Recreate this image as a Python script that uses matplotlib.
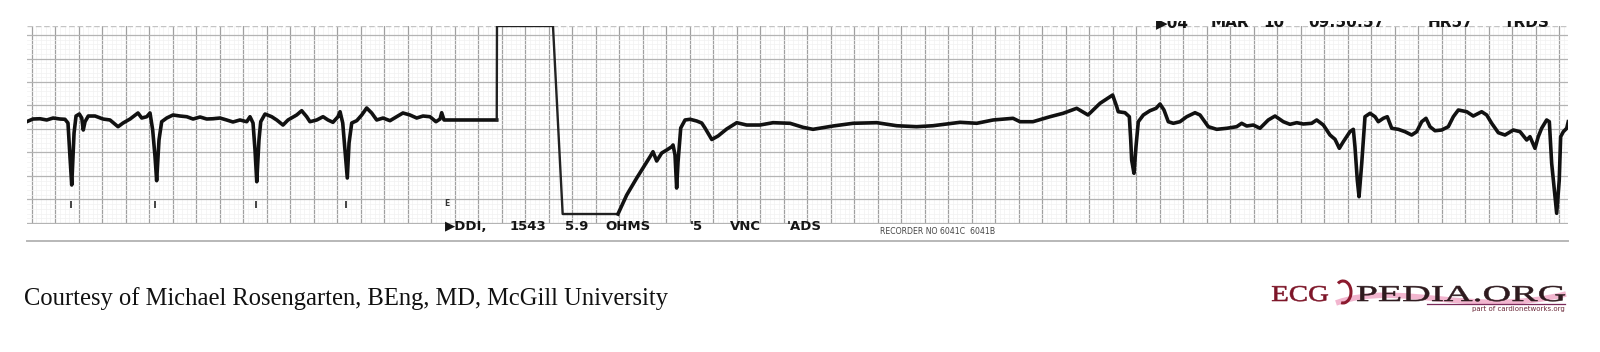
import numpy as np
import matplotlib
matplotlib.use("Agg")
import matplotlib.pyplot as plt
from matplotlib.textpath import TextPath
from matplotlib.font_manager import FontProperties
from matplotlib.patches import PathPatch, Arc
from matplotlib.path import Path
from matplotlib.transforms import Affine2D, Bbox, TransformedBbox

# ---- rhythm strip: time [s], amplitude [mV] ----
pre_t = [-0.043, 0.011, 0.071, 0.129, 0.183, 0.243, 0.285, 0.311, 0.328, 0.343,
         0.363, 0.380, 0.408, 0.429, 0.442, 0.457, 0.485, 0.543, 0.611, 0.671,
         0.740, 0.783, 0.843, 0.911, 0.943, 0.986, 1.014, 1.037, 1.057, 1.071,
         1.091, 1.114, 1.157, 1.211, 1.271, 1.329, 1.383, 1.443, 1.500, 1.554,
         1.614, 1.671, 1.725, 1.785, 1.843, 1.871, 1.897, 1.914, 1.929, 1.948,
         1.963, 2.000, 2.057, 2.100, 2.154, 2.197, 2.271, 2.314, 2.357, 2.385,
         2.443, 2.497, 2.540, 2.582, 2.625, 2.643, 2.666, 2.685, 2.705, 2.720,
         2.743, 2.786, 2.829, 2.871, 2.914, 2.957, 3.011, 3.071, 3.128, 3.182,
         3.242, 3.300, 3.354, 3.414, 3.465, 3.500, 3.514, 3.534, 3.986]
pre_mv = [0.142, 0.200, 0.206, 0.179, 0.221, 0.200, 0.194, 0.114, -0.608, -1.214,
          -0.100, 0.264, 0.307, 0.221, -0.036, 0.142, 0.264, 0.264, 0.200, 0.179,
          0.035, 0.114, 0.200, 0.329, 0.221, 0.249, 0.329, -0.036, -0.608, -1.122,
          -0.250, 0.142, 0.221, 0.286, 0.264, 0.249, 0.200, 0.243, 0.200, 0.206,
          0.221, 0.179, 0.136, 0.179, 0.142, 0.249, 0.114, -0.464, -1.144, -0.250,
          0.142, 0.307, 0.249, 0.179, 0.071, 0.179, 0.286, 0.378, 0.249, 0.142,
          0.179, 0.249, 0.179, 0.129, 0.249, 0.356, 0.114, -0.464, -1.064, -0.314,
          0.114, 0.164, 0.286, 0.436, 0.329, 0.179, 0.221, 0.164, 0.249, 0.329,
          0.286, 0.221, 0.264, 0.249, 0.142, 0.200, 0.335, 0.179, 0.179]

# calibration / threshold pulse
cal_t = [3.986, 3.988, 4.468, 4.551, 5.025]
cal_mv = [0.179, 2.193, 2.193, -1.836, -1.836]

post_t = [5.025, 5.100, 5.186, 5.240, 5.300, 5.325, 5.357, 5.400,
          5.443, 5.486, 5.497, 5.514, 5.528, 5.540, 5.563, 5.600, 5.643, 5.700,
          5.743, 5.771, 5.829, 5.883, 5.957, 6.043, 6.128, 6.242, 6.354, 6.500,
          6.611, 6.697, 6.868, 7.040, 7.243, 7.414, 7.585, 7.725, 7.957, 8.100,
          8.240, 8.411, 8.471, 8.582, 8.728, 8.840, 8.957, 9.054, 9.157, 9.265,
          9.300, 9.313, 9.371, 9.408, 9.420, 9.428, 9.448, 9.465, 9.485, 9.528,
          9.585, 9.637, 9.671, 9.705, 9.742, 9.785, 9.842, 9.900, 9.971, 10.014,
          10.085, 10.157, 10.243, 10.328, 10.371, 10.414, 10.471, 10.528, 10.599, 10.657,
          10.728, 10.785, 10.843, 10.899, 10.971, 11.014, 11.071, 11.128, 11.171, 11.208,
          11.242, 11.299, 11.328, 11.342, 11.362, 11.377, 11.400, 11.428, 11.471, 11.514,
          11.542, 11.585, 11.619, 11.657, 11.713, 11.771, 11.828, 11.871, 11.914, 11.951,
          11.985, 12.028, 12.085, 12.142, 12.185, 12.228, 12.300, 12.356, 12.428, 12.471,
          12.514, 12.571, 12.628, 12.699, 12.757, 12.814, 12.842, 12.885, 12.913, 12.942,
          12.985, 13.008, 13.028, 13.057, 13.071, 13.093, 13.105, 13.128, 13.157, 13.170]
post_mv = [-1.836, -1.429, -1.064, -0.850, -0.608, -0.501, -0.700, -0.529,
           -0.464, -0.394, -0.357, -0.572, -1.279, -0.715, 0.007, 0.179, 0.194, 0.157,
           0.114, 0.007, -0.239, -0.164, -0.014, 0.121, 0.071, 0.071, 0.121, 0.108,
           0.022, -0.021, 0.050, 0.108, 0.121, 0.056, 0.035, 0.056, 0.129, 0.108,
           0.179, 0.215, 0.142, 0.142, 0.249, 0.322, 0.429, 0.286, 0.536, 0.714,
           0.464, 0.356, 0.335, 0.249, -0.250, -0.679, -0.964, -0.394, 0.142, 0.286,
           0.378, 0.429, 0.521, 0.393, 0.142, 0.108, 0.142, 0.249, 0.335, 0.286,
           0.035, -0.021, 0.001, 0.035, 0.108, 0.050, 0.071, 0.001, 0.179, 0.264,
           0.142, 0.086, 0.121, 0.093, 0.108, 0.179, 0.071, -0.143, -0.235, -0.428,
           -0.287, -0.072, -0.021, -0.394, -1.107, -1.465, -0.749, 0.249, 0.322, 0.249,
           0.142, 0.215, 0.249, 0.001, -0.021, -0.072, -0.143, -0.072, 0.142, 0.215,
           0.035, -0.051, -0.036, 0.035, 0.249, 0.393, 0.356, 0.264, 0.356, 0.286,
           0.108, -0.094, -0.143, -0.036, -0.072, -0.250, -0.179, -0.428, -0.179, 0.001,
           0.179, 0.142, -0.749, -1.465, -1.821, -1.107, -0.179, -0.072, 0.001, 0.142]

beat_marks_t = [0.337, 1.061, 1.922, 2.698]
event_mark_t = 3.557

# printed annotations on the paper
bottom_tokens = ["\u25B6DDI,", "1543", "5.9", "OHMS", "'5", "VNC", "'ADS"]
bottom_x = [445, 510, 565, 605, 690, 730, 787]
top_tokens = ["\u25B604", "MAR", "10", "09:50:57", "HR57", "TRDS"]
top_x = [1156, 1211, 1263, 1308, 1428, 1504]

# paper: one big box
box_s = 0.2014
box_mv = 0.5035

fig = plt.figure(figsize=(16, 3.52), dpi=100)

# ---- the strip ----
ax = fig.add_axes([27 / 1600, (352 - 224) / 352, 1541 / 1600, 198 / 352])
ax.set_xlim(-0.0403, 13.168)
ax.set_ylim(-2.05, 2.193)
ax.set_xticks(np.arange(0, 13.17, box_s))
ax.set_xticks(np.arange(0, 13.17, box_s / 5), minor=True)
ax.set_yticks(2.0 - box_mv * np.arange(9))
ax.set_yticks(2.0 - box_mv / 5 * np.arange(41), minor=True)
ax.grid(which='minor', color='#f1f1f1', lw=0.5)
ax.grid(which='major', axis='x', color='#a0a0a0', lw=0.9)
ax.grid(which='major', axis='y', color='#b4b4b4', lw=0.9)
ax.set_axisbelow(True)
ax.tick_params(which='both', length=0, labelbottom=False, labelleft=False)
for s in ax.spines.values():
    s.set_visible(False)
ax.axhline(2.193, color='#c4c4c4', lw=1.0, ls=(0, (4, 2)))

ax.plot(pre_t, pre_mv, color='#111111', lw=2.6, solid_joinstyle='round')
ax.plot(cal_t, cal_mv, color='#222222', lw=1.7)
ax.plot(post_t, post_mv, color='#111111', lw=2.6, solid_joinstyle='round')
ax.vlines(beat_marks_t, -1.70, -1.55, color='#444444', lw=1.4)
ax.text(event_mark_t, -1.62, 'E', fontsize=5.5, fontweight='bold',
        ha='center', va='center', color='#333333')

# ---- overlay in pixel units for the printed text and the footer ----
ov = fig.add_axes([0, 0, 1, 1])
ov.set_xlim(0, 1600)
ov.set_ylim(352, 0)
ov.axis('off')
ov.patch.set_alpha(0)

ov.plot([27, 1568], [241, 241], color='#b8b8b8', lw=1.4)

for tok, x in zip(bottom_tokens, bottom_x):
    ov.text(x, 230, tok, fontsize=9.5, fontweight='bold', color='#151515',
            va='baseline', ha='left')
ov.text(880, 234, 'RECORDER NO 6041C  6041B', fontsize=5.6, color='#444444',
        va='baseline', ha='left')

clip = TransformedBbox(Bbox([[1140, 20.5], [1570, 40]]), ov.transData)
for tok, x in zip(top_tokens, top_x):
    t = ov.text(x, 27, tok, fontsize=11, fontweight='bold', color='#151515',
                va='baseline', ha='left')
    t.set_clip_box(clip)
    t.set_clip_on(True)

ov.text(24, 305, 'Courtesy of Michael Rosengarten, BEng, MD, McGill University',
        family='Liberation Serif', fontsize=17.7, color='#111111',
        va='baseline', ha='left')


def fit_text(s, x0, x1, y_top, y_base, color):
    fp = FontProperties(family='Liberation Serif')
    tp = TextPath((0, 0), s, size=10, prop=fp)
    bb = tp.get_extents()
    sx = (x1 - x0) / bb.width
    sy = (y_base - y_top) / bb.y1
    tr = Affine2D().translate(-bb.x0, 0).scale(sx, -sy).translate(x0, y_base)
    ov.add_patch(PathPatch(tr.transform_path(tp), fc=color, ec=color,
                           lw=0.4, zorder=5))


# pink swoosh behind the logo
sw = Path([(1336, 303), (1400, 280), (1470, 318), (1566, 294)],
          [Path.MOVETO, Path.CURVE4, Path.CURVE4, Path.CURVE4])
ov.add_patch(PathPatch(sw, fc='none', ec='#f2b6cf', lw=4, zorder=3))
ov.plot([1427, 1565], [303.5, 303.5], color='#7a2a5a', lw=0.9, zorder=4)
fit_text('ECG', 1272, 1328, 286, 301, '#7d1528')
fit_text('PEDIA.ORG', 1357, 1565, 286, 301, '#2e1a1e')
ov.add_patch(Arc((1343, 292), 16, 22, theta1=-120, theta2=100,
                 color='#8b1a2e', lw=2.2, zorder=5))
ov.text(1565, 311, 'part of cardionetworks.org', fontsize=5.0,
        color='#6b2a3a', ha='right', va='baseline')

fig.savefig('out.png', dpi=100)
